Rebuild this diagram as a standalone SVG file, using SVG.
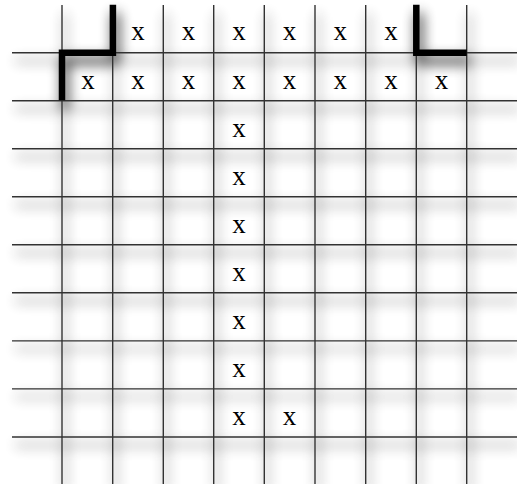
<svg xmlns="http://www.w3.org/2000/svg" width="517" height="484" viewBox="0 0 517 484">
<defs>
<filter id="sh" x="-10%" y="-10%" width="120%" height="120%">
<feGaussianBlur in="SourceAlpha" stdDeviation="6.5"/>
<feOffset dx="3" dy="8" result="b"/>
<feComponentTransfer><feFuncA type="linear" slope="1.5"/></feComponentTransfer>
<feComponentTransfer><feFuncA type="table" tableValues="0 0.6"/></feComponentTransfer>
<feMerge><feMergeNode/><feMergeNode in="SourceGraphic"/></feMerge>
</filter>
<style>
.g line{stroke:#333;stroke-width:1.4}
.t path{fill:none;stroke:#000;stroke-width:6.5;stroke-linecap:square;stroke-linejoin:miter}
.x{font-family:"Liberation Serif","Times New Roman",serif;font-size:27px;text-anchor:middle;fill:#000}
</style>
</defs>
<rect width="517" height="484" fill="#fff"/>
<g filter="url(#sh)">
<g id="grid" class="g">
<line x1="62" y1="5" x2="62" y2="484"/>
<line x1="112.7" y1="5" x2="112.7" y2="484"/>
<line x1="163.3" y1="5" x2="163.3" y2="484"/>
<line x1="213.7" y1="5" x2="213.7" y2="484"/>
<line x1="264.3" y1="5" x2="264.3" y2="484"/>
<line x1="315" y1="5" x2="315" y2="484"/>
<line x1="365.7" y1="5" x2="365.7" y2="484"/>
<line x1="416.3" y1="5" x2="416.3" y2="484"/>
<line x1="466.7" y1="5" x2="466.7" y2="484"/>
<line x1="12" y1="52.7" x2="517" y2="52.7"/>
<line x1="12" y1="100.7" x2="517" y2="100.7"/>
<line x1="12" y1="148.7" x2="517" y2="148.7"/>
<line x1="12" y1="196.8" x2="517" y2="196.8"/>
<line x1="12" y1="244.8" x2="517" y2="244.8"/>
<line x1="12" y1="292.8" x2="517" y2="292.8"/>
<line x1="12" y1="340.9" x2="517" y2="340.9"/>
<line x1="12" y1="388.9" x2="517" y2="388.9"/>
<line x1="12" y1="437" x2="517" y2="437"/>
</g>
<g id="borders" class="t">
<path d="M62 97 V52.7 H112.9 V8"/>
<path d="M416.3 8 V52.7 H463.5"/>
</g>
</g>
<g id="marks" class="x">
<text x="138" y="40">x</text>
<text x="188.5" y="40">x</text>
<text x="239" y="40">x</text>
<text x="289.6" y="40">x</text>
<text x="340.3" y="40">x</text>
<text x="391" y="40">x</text>
<text x="88" y="89">x</text>
<text x="138" y="89">x</text>
<text x="188.5" y="89">x</text>
<text x="239" y="89">x</text>
<text x="289.6" y="89">x</text>
<text x="340.3" y="89">x</text>
<text x="391" y="89">x</text>
<text x="441.5" y="89">x</text>
<text x="239" y="137">x</text>
<text x="239" y="185">x</text>
<text x="239" y="233">x</text>
<text x="239" y="281">x</text>
<text x="239" y="329">x</text>
<text x="239" y="377">x</text>
<text x="239" y="425">x</text>
<text x="289.6" y="425">x</text>
</g>
</svg>
